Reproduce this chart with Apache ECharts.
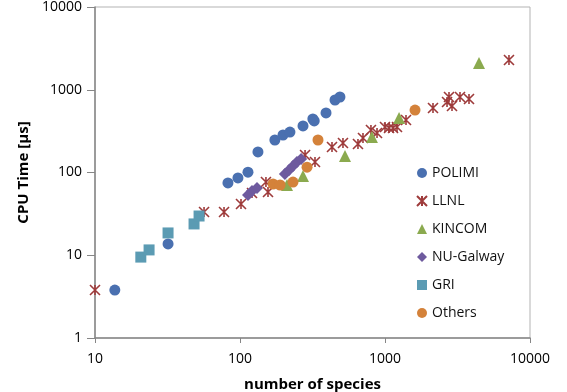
<!DOCTYPE html>
<html>
<head>
<meta charset="utf-8">
<script src="https://cdn.jsdelivr.net/npm/echarts@6/dist/echarts.min.js"></script>
<style>html,body{margin:0;padding:0;background:#fff}#c{width:567px;height:392px}</style>
</head>
<body>
<div id="c"></div>
<script>
var seriesNames = ['POLIMI', 'LLNL', 'KINCOM', 'NU-Galway', 'GRI', 'Others'];

var polimiX = [13.7, 31.9, 82.6, 96.8, 113.5, 133, 174, 198, 221, 272, 318, 325, 392, 452, 489];
var polimiY = [3.8, 13.7, 74.7, 85.9, 101, 177, 247, 284, 308, 365, 443, 420, 525, 752, 817];

var llnlX = [10, 56.5, 77.6, 101.6, 121, 151, 156, 281, 329, 431, 513, 651, 705, 800, 881, 1000, 1066, 1136, 1210, 1396, 2143, 2678, 2763, 2898, 3290, 3796, 7161];
var llnlY = [3.8, 33.3, 33.3, 41.6, 56.5, 76.7, 58.1, 163, 134, 203, 227, 221, 261, 326, 300, 355, 345, 345, 355, 431, 602, 711, 817, 637, 817, 773, 2288];

var kincomX = [211, 272, 530, 813, 1250, 4448];
var kincomY = [70.6, 90.7, 158, 269, 456, 2105];

var galwayX = [113.6, 121, 131, 204, 218, 232, 247, 264];
var galwayY = [53.5, 59.8, 65, 95.9, 107, 120, 134, 146];

var griX = [20.7, 23.6, 31.9, 48.2, 52.2];
var griY = [9.5, 11.6, 18.6, 23.9, 29.8];

var othersX = [169, 189, 232, 290, 345, 1611];
var othersY = [72.6, 70.6, 76.7, 116, 247, 569];

var xTicks = [10, 100, 1000, 10000];
var yTicks = [1, 10, 100, 1000, 10000];

function pairs(xs, ys) { return xs.map(function (x, i) { return [x, ys[i]]; }); }

var colors = ['#4A70B0', '#9E3B3B', '#8BAA4F', '#6E5A9E', '#5B9BB3', '#D4823A'];
var symbols = ['circle', 'path://M0,0L10,10M10,0L0,10M5,0L5,10', 'triangle', 'diamond', 'rect', 'circle'];
var sizes = [11, 10, 12, 12, 11, 11];
var datas = [pairs(polimiX, polimiY), pairs(llnlX, llnlY), pairs(kincomX, kincomY), pairs(galwayX, galwayY), pairs(griX, griY), pairs(othersX, othersY)];

var font = '"Open Sans", "Liberation Sans", sans-serif';

var series = seriesNames.map(function (n, i) {
  var s = {
    name: n, type: 'scatter', data: datas[i], symbol: symbols[i], symbolSize: sizes[i],
    itemStyle: { color: colors[i], opacity: 1 },
    z: 2 + i
  };
  if (i === 1) {
    s.itemStyle = { color: colors[i], borderColor: colors[i], borderWidth: 1.6, opacity: 1 };
  }
  return s;
});

function plain(v) { return String(v); }

var chart = echarts.init(document.getElementById('c'), null, { renderer: 'canvas' });
chart.setOption({
  animation: false,
  backgroundColor: '#fff',
  grid: { left: 95, right: 37, top: 7, bottom: 54, show: true, borderColor: '#b3b3b3', borderWidth: 1, outerBoundsMode: 'none', containLabel: false },
  legend: {
    orient: 'vertical', left: 411, top: 160,
    itemWidth: 10, itemHeight: 10, itemGap: 12,
    textStyle: { fontFamily: font, fontSize: 14, color: '#111', lineHeight: 16 },
    data: seriesNames
  },
  xAxis: {
    type: 'log', logBase: 10, min: xTicks[0], max: xTicks[xTicks.length - 1],
    name: 'number of species', nameLocation: 'middle', nameGap: 39,
    nameTextStyle: { fontFamily: font, fontSize: 15, fontWeight: 'bold', color: '#000' },
    axisLine: { lineStyle: { color: '#868686', width: 1.5 } },
    axisTick: { show: true, length: 5, lineStyle: { color: '#868686' } },
    axisLabel: { fontFamily: font, fontSize: 14, color: '#000', margin: 14, formatter: plain },
    splitLine: { show: false }, minorTick: { show: false }
  },
  yAxis: {
    type: 'log', logBase: 10, min: yTicks[0], max: yTicks[yTicks.length - 1],
    name: 'CPU Time [µs]', nameLocation: 'middle', nameGap: 64,
    nameTextStyle: { fontFamily: font, fontSize: 15, fontWeight: 'bold', color: '#000' },
    axisLine: { lineStyle: { color: '#868686', width: 1.5 } },
    axisTick: { show: true, length: 8, lineStyle: { color: '#868686' } },
    axisLabel: { fontFamily: font, fontSize: 14, color: '#000', margin: 13, formatter: plain },
    splitLine: { show: false }, minorTick: { show: false }
  },
  series: series
});
</script>
</body>
</html>
